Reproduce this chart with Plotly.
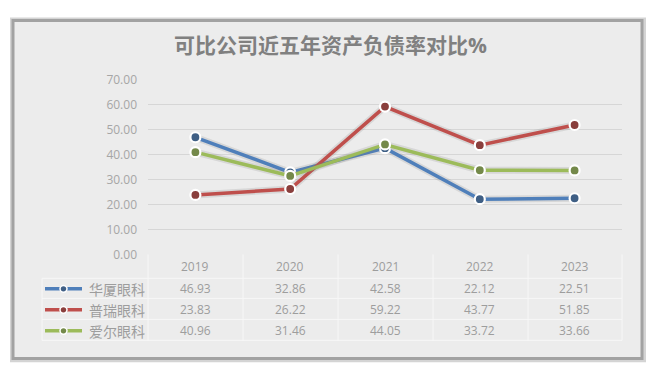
import plotly.graph_objects as go

W, H = 650, 378
years = ["2019", "2020", "2021", "2022", "2023"]
series_names = ["华厦眼科", "普瑞眼科", "爱尔眼科"]
huaxia = [46.93, 32.86, 42.58, 22.12, 22.51]
purui = [23.83, 26.22, 59.22, 43.77, 51.85]
aier = [40.96, 31.46, 44.05, 33.72, 33.66]
series_values = [huaxia, purui, aier]
colors = ["#4f7fba", "#bf4f4c", "#9cbb5a"]
dark = ["#3f5f85", "#8a3f3d", "#74894a"]
title = "可比公司近五年资产负债率对比%"

def px(x):
    return x / W

def py(y):
    return 1 - y / H

PL, PR, PT, PB = 148, 622, 74, 257
FONT = "Open Sans, Noto Sans CJK SC, sans-serif"
TXT = "#9d9d9d"

fig = go.Figure()
for name, vals, c, d in zip(series_names, series_values, colors, dark):
    fig.add_trace(go.Scatter(x=years, y=vals, mode="lines",
                             line=dict(color="rgba(120,120,120,0.18)", width=7),
                             hoverinfo="skip", showlegend=False))
    fig.add_trace(go.Scatter(x=years, y=vals, mode="lines+markers", name=name,
                             line=dict(color=c, width=3.5),
                             marker=dict(size=10, color=d, line=dict(color="white", width=2.2)),
                             showlegend=False))

shapes = []
shapes.append(dict(type="rect", xref="paper", yref="paper",
                   x0=px(10), x1=px(646), y0=py(370), y1=py(9),
                   fillcolor="#d4d4d4", line=dict(width=0), layer="below"))
shapes.append(dict(type="rect", xref="paper", yref="paper",
                   x0=px(13), x1=px(642), y0=py(366), y1=py(12),
                   fillcolor="#ececec", line=dict(color="#a2a2a2", width=3), layer="below"))

tbl_line = dict(color="#f7f7f7", width=1)
for xv in [148, 243, 338, 433, 528, 622]:
    shapes.append(dict(type="line", xref="paper", yref="paper",
                       x0=px(xv), x1=px(xv), y0=py(257), y1=py(347), line=tbl_line))
shapes.append(dict(type="line", xref="paper", yref="paper",
                   x0=px(42), x1=px(42), y0=py(282), y1=py(347), line=tbl_line))
for yv in [282, 303, 325, 347]:
    shapes.append(dict(type="line", xref="paper", yref="paper",
                       x0=px(42), x1=px(622), y0=py(yv), y1=py(yv), line=tbl_line))

annotations = []
annotations.append(dict(text=f"<b>{title}</b>", x=px(330), y=py(38), xref="paper", yref="paper",
                        showarrow=False, font=dict(size=21, color="#808080", family=FONT),
                        xanchor="center", yanchor="middle"))
row_y = [293, 315, 337]
for i, yr in enumerate(years):
    annotations.append(dict(text=yr, x=i, xref="x", y=py(270), yref="paper", showarrow=False,
                            xanchor="center", font=dict(size=12, color=TXT, family=FONT),
                            yanchor="middle"))
for r, (name, vals, c, d) in enumerate(zip(series_names, series_values, colors, dark)):
    yy = row_y[r]
    shapes.append(dict(type="line", xref="paper", yref="paper",
                       x0=px(45), x1=px(82), y0=py(yy), y1=py(yy),
                       line=dict(color=c, width=3.5)))
    shapes.append(dict(type="circle", xref="paper", yref="paper",
                       x0=px(60), x1=px(67), y0=py(yy + 3.5), y1=py(yy - 3.5),
                       fillcolor=d, line=dict(color="white", width=1.5)))
    annotations.append(dict(text=name, x=px(87), y=py(yy), xref="paper", yref="paper",
                            showarrow=False, xanchor="left", yanchor="middle",
                            font=dict(size=14, color=TXT, family="Noto Sans CJK SC")))
    for i, v in enumerate(vals):
        annotations.append(dict(text=f"{v:.2f}", x=i, xref="x", y=py(yy), yref="paper",
                                showarrow=False, xanchor="center", yanchor="middle",
                                font=dict(size=12, color=TXT, family=FONT)))

fig.update_layout(
    width=W, height=H,
    margin=dict(l=0, r=0, t=0, b=0),
    paper_bgcolor="white", plot_bgcolor="rgba(0,0,0,0)",
    xaxis=dict(type="category", range=[-0.5, 4.5], domain=[px(PL), px(PR)],
               showticklabels=False, showgrid=False, zeroline=False, showline=False, ticks=""),
    yaxis=dict(range=[0, 70], domain=[py(PB), py(PT)], dtick=10, tickformat=".2f",
               showgrid=True, gridcolor="#d6d6d6", gridwidth=1, zeroline=False,
               tickfont=dict(size=12, color="#a6a6a6", family=FONT), ticks="",
               ticklabelstandoff=10),
    shapes=shapes, annotations=annotations,
    showlegend=False,
)
fig.write_html("out.html", config={"displayModeBar": False},
               post_script="document.body.style.margin='0';")
